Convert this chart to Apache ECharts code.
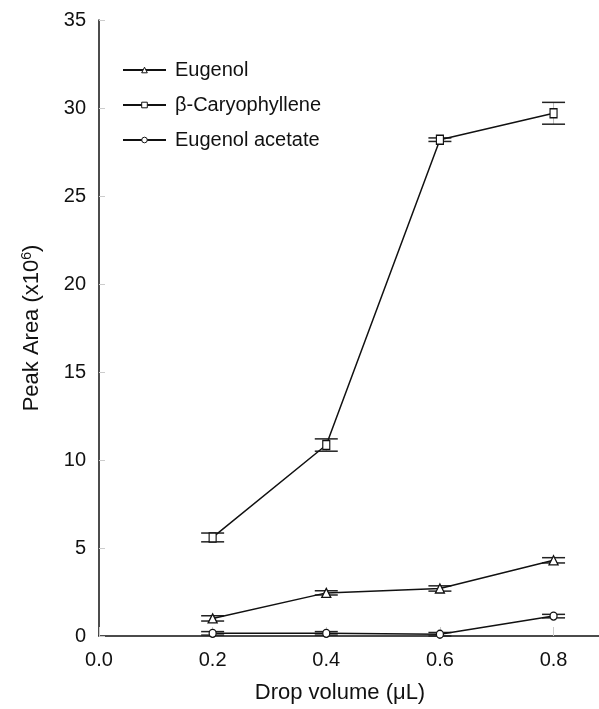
<!DOCTYPE html>
<html>
<head>
<meta charset="utf-8">
<script src="https://cdn.jsdelivr.net/npm/echarts@6/dist/echarts.min.js"></script>
<style>html,body{margin:0;padding:0;background:#fff}#c{width:599px;height:709px}</style>
</head>
<body>
<div id="c"></div>
<script>
const xValues = [0.2, 0.4, 0.6, 0.8];
const eugenol = [1.0, 2.45, 2.7, 4.3];
const eugenolErr = [0.15, 0.12, 0.15, 0.15];
const caryophyllene = [5.6, 10.85, 28.2, 29.7];
const caryophylleneErr = [0.25, 0.35, 0.1, 0.62];
const acetate = [0.15, 0.15, 0.1, 1.13];
const acetateErr = [0.1, 0.1, 0.1, 0.1];
const seriesNames = ['Eugenol', 'β-Caryophyllene', 'Eugenol acetate'];

const font = 'Liberation Sans, Arial, sans-serif';
const pairs = (ys) => xValues.map((x, i) => [x, ys[i]]);
const errData = (ys, es) => xValues.map((x, i) => [x, ys[i] - es[i], ys[i] + es[i]]);

function errSeries(ys, es) {
  return {
    type: 'custom',
    data: errData(ys, es),
    z: 1,
    silent: true,
    renderItem: function (params, api) {
      const x = api.value(0);
      const lo = api.coord([x, api.value(1)]);
      const hi = api.coord([x, api.value(2)]);
      const hw = 11.5;
      return {
        type: 'group',
        children: [
          { type: 'line', shape: { x1: lo[0], y1: lo[1], x2: hi[0], y2: hi[1] }, style: { stroke: '#bbb', lineWidth: 1 } },
          { type: 'line', shape: { x1: lo[0] - hw, y1: lo[1], x2: lo[0] + hw, y2: lo[1] }, style: { stroke: '#222', lineWidth: 1.5 } },
          { type: 'line', shape: { x1: hi[0] - hw, y1: hi[1], x2: hi[0] + hw, y2: hi[1] }, style: { stroke: '#222', lineWidth: 1.5 } }
        ]
      };
    }
  };
}

function lineSeries(name, ys, symbol, size) {
  return {
    name: name,
    type: 'line',
    data: pairs(ys),
    symbol: symbol,
    symbolSize: size,
    showAllSymbol: true,
    z: 3,
    lineStyle: { color: '#111', width: 1.5 },
    itemStyle: { color: '#fff', borderColor: '#111', borderWidth: 1.3 },
    emphasis: { disabled: true }
  };
}

const chart = echarts.init(document.getElementById('c'), null, { renderer: 'canvas' });
chart.setOption({
  backgroundColor: '#fff',
  animation: false,
  grid: { left: 99, top: 20, bottom: 72, right: 0 },
  legend: {
    orient: 'vertical',
    left: 122,
    top: 60,
    padding: 0,
    itemGap: 15,
    itemWidth: 43,
    itemHeight: 7,
    data: seriesNames.map(n => ({ name: n, itemStyle: { borderWidth: 1 } })),
    textStyle: { fontFamily: font, fontSize: 20, color: '#111', padding: [0, 0, 0, 4] }
  },
  xAxis: {
    type: 'value',
    min: 0,
    max: 0.88,
    interval: 0.2,
    name: 'Drop volume (μL)',
    nameLocation: 'middle',
    nameGap: 46,
    nameTextStyle: { fontFamily: font, fontSize: 22, color: '#111', padding: [0, 18, 0, 0] },
    axisLine: { show: true, onZero: false, lineStyle: { color: '#111', width: 1.5 } },
    axisTick: { show: true, inside: true, length: 9, lineStyle: { color: '#ccc' } },
    axisLabel: {
      fontFamily: font, fontSize: 20, color: '#111', margin: 14,
      formatter: (v) => v.toFixed(1),
      showMaxLabel: false
    },
    splitLine: { show: false }
  },
  yAxis: {
    type: 'value',
    min: 0,
    max: 35,
    interval: 5,
    name: 'Peak Area (x10{sup|6})',
    nameLocation: 'middle',
    nameGap: 56,
    nameTextStyle: {
      fontFamily: font, fontSize: 22, color: '#111',
      rich: { sup: { fontFamily: font, fontSize: 14, color: '#111', verticalAlign: 'top', padding: [0, 0, 9, 0] } }
    },
    axisLine: { show: true, lineStyle: { color: '#111', width: 1.5 } },
    axisTick: { show: true, inside: true, length: 6, lineStyle: { color: '#ccc' } },
    axisLabel: { fontFamily: font, fontSize: 20, color: '#111', margin: 13 },
    splitLine: { show: false }
  },
  series: [
    errSeries(eugenol, eugenolErr),
    errSeries(caryophyllene, caryophylleneErr),
    errSeries(acetate, acetateErr),
    lineSeries(seriesNames[0], eugenol, 'triangle', 9),
    lineSeries(seriesNames[1], caryophyllene, 'rect', [7, 9]),
    lineSeries(seriesNames[2], acetate, 'circle', [7, 8])
  ]
});
</script>
</body>
</html>
